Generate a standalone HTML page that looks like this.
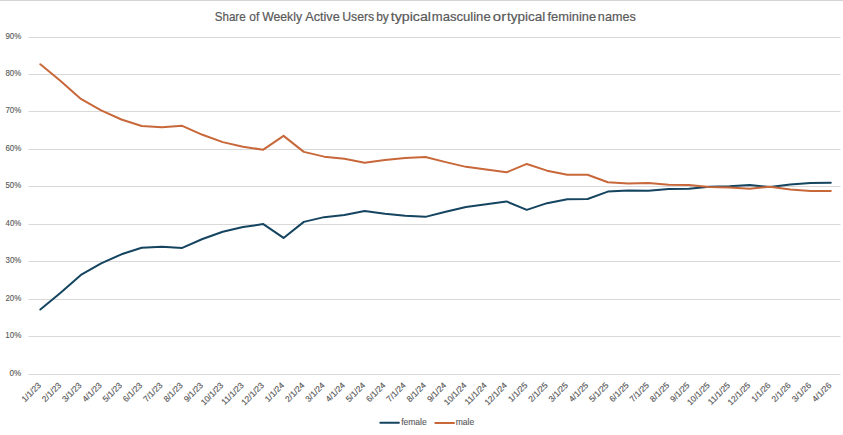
<!DOCTYPE html>
<html><head><meta charset="utf-8"><style>
html,body{margin:0;padding:0;background:#fff;}
body{width:843px;height:435px;overflow:hidden;}
svg{display:block;font-family:"Liberation Sans",sans-serif;}
.yl{font-size:8.4px;fill:#595959;stroke:#595959;stroke-width:0.12px;}
.xl{font-size:8.4px;fill:#595959;stroke:#595959;stroke-width:0.15px;}
.lg{font-size:8.4px;fill:#595959;stroke:#595959;stroke-width:0.12px;}
.tt{font-size:12.8px;fill:#595959;stroke:#595959;stroke-width:0.2px;}
.ln{fill:none;stroke-width:2.0;stroke-linejoin:round;stroke-linecap:round;}
</style></head><body>
<svg width="843" height="435" viewBox="0 0 843 435">
<rect x="0" y="0" width="843" height="1" fill="#d4d4d4"/>
<rect x="28.5" y="37" width="812" height="1" fill="#d9d9d9"/>
<rect x="28.5" y="74" width="812" height="1" fill="#d9d9d9"/>
<rect x="28.5" y="111" width="812" height="1" fill="#d9d9d9"/>
<rect x="28.5" y="149" width="812" height="1" fill="#d9d9d9"/>
<rect x="28.5" y="186" width="812" height="1" fill="#d9d9d9"/>
<rect x="28.5" y="224" width="812" height="1" fill="#d9d9d9"/>
<rect x="28.5" y="261" width="812" height="1" fill="#d9d9d9"/>
<rect x="28.5" y="299" width="812" height="1" fill="#d9d9d9"/>
<rect x="28.5" y="336" width="812" height="1" fill="#d9d9d9"/>
<rect x="28.5" y="374" width="812" height="1" fill="#d9d9d9"/>
<text x="5.43" y="38.6" class="yl" textLength="15.85" lengthAdjust="spacingAndGlyphs">90%</text>
<text x="5.46" y="75.6" class="yl" textLength="15.82" lengthAdjust="spacingAndGlyphs">80%</text>
<text x="5.40" y="112.6" class="yl" textLength="15.89" lengthAdjust="spacingAndGlyphs">70%</text>
<text x="5.40" y="150.6" class="yl" textLength="15.89" lengthAdjust="spacingAndGlyphs">60%</text>
<text x="5.48" y="187.6" class="yl" textLength="15.80" lengthAdjust="spacingAndGlyphs">50%</text>
<text x="5.62" y="225.6" class="yl" textLength="15.66" lengthAdjust="spacingAndGlyphs">40%</text>
<text x="5.50" y="262.6" class="yl" textLength="15.78" lengthAdjust="spacingAndGlyphs">30%</text>
<text x="5.40" y="300.6" class="yl" textLength="15.88" lengthAdjust="spacingAndGlyphs">20%</text>
<text x="5.19" y="337.6" class="yl" textLength="16.10" lengthAdjust="spacingAndGlyphs">10%</text>
<text x="9.58" y="375.6" class="yl" textLength="11.70" lengthAdjust="spacingAndGlyphs">0%</text>
<text transform="translate(41.50,386) rotate(-45)" text-anchor="end" class="xl">1/1/23</text>
<text transform="translate(61.77,386) rotate(-45)" text-anchor="end" class="xl">2/1/23</text>
<text transform="translate(82.04,386) rotate(-45)" text-anchor="end" class="xl">3/1/23</text>
<text transform="translate(102.30,386) rotate(-45)" text-anchor="end" class="xl">4/1/23</text>
<text transform="translate(122.57,386) rotate(-45)" text-anchor="end" class="xl">5/1/23</text>
<text transform="translate(142.84,386) rotate(-45)" text-anchor="end" class="xl">6/1/23</text>
<text transform="translate(163.11,386) rotate(-45)" text-anchor="end" class="xl">7/1/23</text>
<text transform="translate(183.38,386) rotate(-45)" text-anchor="end" class="xl">8/1/23</text>
<text transform="translate(203.64,386) rotate(-45)" text-anchor="end" class="xl">9/1/23</text>
<text transform="translate(223.91,386) rotate(-45)" text-anchor="end" class="xl">10/1/23</text>
<text transform="translate(244.18,386) rotate(-45)" text-anchor="end" class="xl">11/1/23</text>
<text transform="translate(264.45,386) rotate(-45)" text-anchor="end" class="xl">12/1/23</text>
<text transform="translate(284.72,386) rotate(-45)" text-anchor="end" class="xl">1/1/24</text>
<text transform="translate(304.98,386) rotate(-45)" text-anchor="end" class="xl">2/1/24</text>
<text transform="translate(325.25,386) rotate(-45)" text-anchor="end" class="xl">3/1/24</text>
<text transform="translate(345.52,386) rotate(-45)" text-anchor="end" class="xl">4/1/24</text>
<text transform="translate(365.79,386) rotate(-45)" text-anchor="end" class="xl">5/1/24</text>
<text transform="translate(386.06,386) rotate(-45)" text-anchor="end" class="xl">6/1/24</text>
<text transform="translate(406.32,386) rotate(-45)" text-anchor="end" class="xl">7/1/24</text>
<text transform="translate(426.59,386) rotate(-45)" text-anchor="end" class="xl">8/1/24</text>
<text transform="translate(446.86,386) rotate(-45)" text-anchor="end" class="xl">9/1/24</text>
<text transform="translate(467.13,386) rotate(-45)" text-anchor="end" class="xl">10/1/24</text>
<text transform="translate(487.40,386) rotate(-45)" text-anchor="end" class="xl">11/1/24</text>
<text transform="translate(507.66,386) rotate(-45)" text-anchor="end" class="xl">12/1/24</text>
<text transform="translate(527.93,386) rotate(-45)" text-anchor="end" class="xl">1/1/25</text>
<text transform="translate(548.20,386) rotate(-45)" text-anchor="end" class="xl">2/1/25</text>
<text transform="translate(568.47,386) rotate(-45)" text-anchor="end" class="xl">3/1/25</text>
<text transform="translate(588.74,386) rotate(-45)" text-anchor="end" class="xl">4/1/25</text>
<text transform="translate(609.00,386) rotate(-45)" text-anchor="end" class="xl">5/1/25</text>
<text transform="translate(629.27,386) rotate(-45)" text-anchor="end" class="xl">6/1/25</text>
<text transform="translate(649.54,386) rotate(-45)" text-anchor="end" class="xl">7/1/25</text>
<text transform="translate(669.81,386) rotate(-45)" text-anchor="end" class="xl">8/1/25</text>
<text transform="translate(690.08,386) rotate(-45)" text-anchor="end" class="xl">9/1/25</text>
<text transform="translate(710.34,386) rotate(-45)" text-anchor="end" class="xl">10/1/25</text>
<text transform="translate(730.61,386) rotate(-45)" text-anchor="end" class="xl">11/1/25</text>
<text transform="translate(750.88,386) rotate(-45)" text-anchor="end" class="xl">12/1/25</text>
<text transform="translate(771.15,386) rotate(-45)" text-anchor="end" class="xl">1/1/26</text>
<text transform="translate(791.42,386) rotate(-45)" text-anchor="end" class="xl">2/1/26</text>
<text transform="translate(811.68,386) rotate(-45)" text-anchor="end" class="xl">3/1/26</text>
<text transform="translate(831.95,386) rotate(-45)" text-anchor="end" class="xl">4/1/26</text>
<path d="M40.35,309.55 L60.62,292.80 L80.89,274.90 L101.15,263.35 L121.42,254.30 L141.69,247.80 L161.96,246.65 L182.23,247.95 L202.49,239.00 L222.76,231.70 L243.03,227.00 L263.30,224.10 L283.57,237.95 L303.83,221.90 L324.10,217.15 L344.37,215.00 L364.64,211.00 L384.91,213.85 L405.17,215.75 L425.44,216.85 L445.71,211.70 L465.98,206.95 L486.25,204.35 L506.51,201.45 L526.78,209.85 L547.05,203.15 L567.32,199.15 L587.59,199.05 L607.85,191.60 L628.12,190.40 L648.39,190.75 L668.66,189.00 L688.93,188.70 L709.19,186.75 L729.46,186.30 L749.73,185.10 L770.00,187.05 L790.27,184.40 L810.53,182.90 L830.80,182.80" class="ln" stroke="#144460"/>
<path d="M40.35,64.25 L60.62,81.00 L80.89,98.90 L101.15,110.45 L121.42,119.50 L141.69,126.00 L161.96,127.15 L182.23,125.85 L202.49,134.80 L222.76,142.10 L243.03,146.80 L263.30,149.70 L283.57,135.85 L303.83,151.90 L324.10,156.65 L344.37,158.80 L364.64,162.80 L384.91,159.95 L405.17,158.05 L425.44,156.95 L445.71,162.10 L465.98,166.85 L486.25,169.45 L506.51,172.35 L526.78,163.95 L547.05,170.65 L567.32,174.65 L587.59,174.75 L607.85,182.20 L628.12,183.40 L648.39,183.05 L668.66,184.80 L688.93,185.10 L709.19,187.05 L729.46,187.50 L749.73,188.70 L770.00,186.75 L790.27,189.40 L810.53,190.90 L830.80,191.00" class="ln" stroke="#c8683a"/>
<line x1="380.3" y1="422.8" x2="398.9" y2="422.8" stroke="#144460" stroke-width="2" stroke-linecap="round"/>
<text x="401.18" y="424.5" class="lg" textLength="25.50" lengthAdjust="spacingAndGlyphs">female</text>
<text x="455.74" y="424.5" class="lg" textLength="18.55" lengthAdjust="spacingAndGlyphs">male</text>
<line x1="435.3" y1="422.9" x2="454" y2="422.9" stroke="#c8683a" stroke-width="2" stroke-linecap="round"/>
<text x="214.66" y="21.1" class="tt" textLength="31.05" lengthAdjust="spacingAndGlyphs">Share</text>
<text x="249.30" y="21.1" class="tt" textLength="9.99" lengthAdjust="spacingAndGlyphs">of</text>
<text x="262.14" y="21.1" class="tt" textLength="39.89" lengthAdjust="spacingAndGlyphs">Weekly</text>
<text x="305.17" y="21.1" class="tt" textLength="34.59" lengthAdjust="spacingAndGlyphs">Active</text>
<text x="342.15" y="21.1" class="tt" textLength="32.09" lengthAdjust="spacingAndGlyphs">Users</text>
<text x="376.22" y="21.1" class="tt" textLength="12.60" lengthAdjust="spacingAndGlyphs">by</text>
<text x="390.69" y="21.1" class="tt" textLength="40.27" lengthAdjust="spacingAndGlyphs">typical</text>
<text x="431.74" y="21.1" class="tt" textLength="58.94" lengthAdjust="spacingAndGlyphs">masculine</text>
<text x="492.87" y="21.1" class="tt" textLength="13.28" lengthAdjust="spacingAndGlyphs">or</text>
<text x="507.00" y="21.1" class="tt" textLength="38.31" lengthAdjust="spacingAndGlyphs">typical</text>
<text x="547.52" y="21.1" class="tt" textLength="48.54" lengthAdjust="spacingAndGlyphs">feminine</text>
<text x="597.87" y="21.1" class="tt" textLength="37.89" lengthAdjust="spacingAndGlyphs">names</text>
</svg>
</body></html>
